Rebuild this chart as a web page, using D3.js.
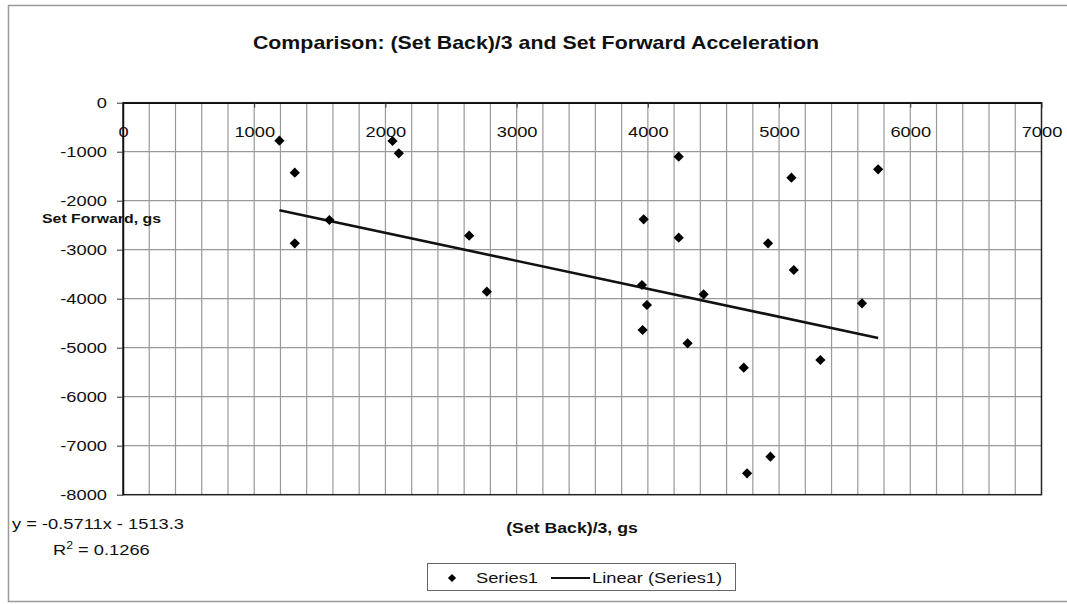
<!DOCTYPE html>
<html>
<head>
<meta charset="utf-8">
<script src="https://cdn.jsdelivr.net/npm/d3@7"></script>
<style>
    body { margin: 0; background: #fff; }
    text { font-family: "Liberation Sans", Arial, sans-serif; fill: #111; }
</style>
</head>
<body>
<div id="chart"></div>
<script>
// Data
let setBack = [1192, 1309, 1309, 1573, 2054, 2102, 2638, 2773, 3968, 4235, 4235, 3955, 3993,
    3960, 4303, 4425, 4731, 4756, 4934, 4916, 5094, 5112, 5315, 5755, 5632];
let setForward = [-775, -1428, -2870, -2394, -782, -1033, -2714, -3857, -2380, -1102, -2755, -3720, -4129,
    -4639, -4910, -3910, -5408, -7563, -7224, -2870, -1530, -3414, -5251, -1360, -4095];
let xTicks = [0, 1000, 2000, 3000, 4000, 5000, 6000, 7000];
let yTicks = [0, -1000, -2000, -3000, -4000, -5000, -6000, -7000, -8000];
let slope = -0.5711, intercept = -1513.3, rSquared = "0.1266";

let data = setBack.map(function(v, i) { return {x: v, y: setForward[i]}; });

let W = 1067, H = 604;
let stretch = 1.22; // the scanned text is wider than it is tall

let svg = d3.select("#chart")
    .append("svg")
    .attr("width", W)
    .attr("height", H);

// outer frame
svg.append("path")
    .attr("d", "M1067,5.5H8.5V601.5H1067")
    .attr("fill", "none")
    .attr("stroke", "#9a9a9a")
    .attr("stroke-width", 1.5);

function addText(x, y, str, size, weight, anchor) {
    return svg.append("text")
        .attr("transform", "translate(" + x + "," + y + ") scale(" + stretch + ",1)")
        .attr("text-anchor", anchor || "start")
        .style("font-size", size + "px")
        .style("font-weight", weight || "normal")
        .text(str);
}

// scales
let x = d3.scaleLinear().domain([0, 7000]).range([123, 1041.5]);
let y = d3.scaleLinear().domain([0, -8000]).range([102.7, 494.7]);

// grid lines
svg.append("g")
    .selectAll("line")
    .data(d3.range(200, 7000, 200))
    .enter()
    .append("line")
    .attr("x1", function(d) { return x(d); })
    .attr("x2", function(d) { return x(d); })
    .attr("y1", y(0))
    .attr("y2", y(-8000))
    .attr("stroke", "#999")
    .attr("stroke-width", 1.2);

svg.append("g")
    .selectAll("line")
    .data(yTicks.slice(1, -1))
    .enter()
    .append("line")
    .attr("x1", x(0))
    .attr("x2", x(7000))
    .attr("y1", function(d) { return y(d); })
    .attr("y2", function(d) { return y(d); })
    .attr("stroke", "#999")
    .attr("stroke-width", 1.2);

// plot border
svg.append("rect")
    .attr("x", x(0))
    .attr("y", y(0))
    .attr("width", x(7000) - x(0))
    .attr("height", y(-8000) - y(0))
    .attr("fill", "none")
    .attr("stroke", "#222")
    .attr("stroke-width", 1.5);

// plain numbers, hyphen minus, no thousands comma
let plain = function(d) { return String(d); };

// Add X axis (crosses at y = 0)
let xAxis = svg.append("g")
    .attr("transform", "translate(0," + y(0) + ")")
    .call(d3.axisBottom(x).tickValues(xTicks).tickFormat(plain).tickSize(5).tickSizeOuter(0));
xAxis.select(".domain").attr("stroke", "#111").attr("stroke-width", 1.5);
xAxis.selectAll("line").attr("stroke", "#333");
xAxis.selectAll("text")
    .attr("transform", "scale(" + stretch + ",1)")
    .attr("y", 24)
    .style("font-size", "15px")
    .attr("fill", "#111");

// Add Y axis
let yAxis = svg.append("g")
    .attr("transform", "translate(" + x(0) + ",0)")
    .call(d3.axisLeft(y).tickValues(yTicks).tickFormat(plain).tickSize(6).tickSizeOuter(0));
yAxis.select(".domain").attr("stroke", "#111").attr("stroke-width", 1.5);
yAxis.selectAll("line").attr("stroke", "#333");
yAxis.selectAll("text")
    .attr("transform", "scale(" + stretch + ",1)")
    .attr("x", -16 / stretch)
    .style("font-size", "15px")
    .attr("fill", "#111");

// trend line
let xMin = d3.min(setBack), xMax = d3.max(setBack);
svg.append("line")
    .attr("x1", x(xMin))
    .attr("y1", y(slope * xMin + intercept))
    .attr("x2", x(xMax))
    .attr("y2", y(slope * xMax + intercept))
    .attr("stroke", "#111")
    .attr("stroke-width", 2.6);

// markers
let diamond = d3.symbol().type(d3.symbolSquare).size(52);
svg.append("g")
    .selectAll("path")
    .data(data)
    .enter()
    .append("path")
    .attr("d", diamond)
    .attr("transform", function(d) { return "translate(" + x(d.x) + "," + y(d.y) + ") rotate(45)"; })
    .attr("fill", "#000");

// titles
addText(536, 49, "Comparison: (Set Back)/3 and Set Forward Acceleration", 17.5, "bold", "middle");
addText(42, 223, "Set Forward, gs", 13, "bold");
addText(572, 533, "(Set Back)/3, gs", 14.5, "bold", "middle");

// regression text
addText(12, 529, "y = " + slope + "x - " + Math.abs(intercept), 15);
let r2 = addText(53, 555, "R", 15);
r2.append("tspan").attr("dy", -6).style("font-size", "10px").text("2");
r2.append("tspan").attr("dy", 6).text(" = " + rSquared);

// legend
svg.append("rect")
    .attr("x", 427.5)
    .attr("y", 563.5)
    .attr("width", 308)
    .attr("height", 27)
    .attr("fill", "#fff")
    .attr("stroke", "#666")
    .attr("stroke-width", 1);
svg.append("path")
    .attr("d", d3.symbol().type(d3.symbolSquare).size(34))
    .attr("transform", "translate(452,578) rotate(45)")
    .attr("fill", "#000");
addText(476, 583, "Series1", 15);
svg.append("line")
    .attr("x1", 551)
    .attr("x2", 590)
    .attr("y1", 578)
    .attr("y2", 578)
    .attr("stroke", "#111")
    .attr("stroke-width", 2.2);
addText(592, 583, "Linear (Series1)", 15);
</script>
</body>
</html>
